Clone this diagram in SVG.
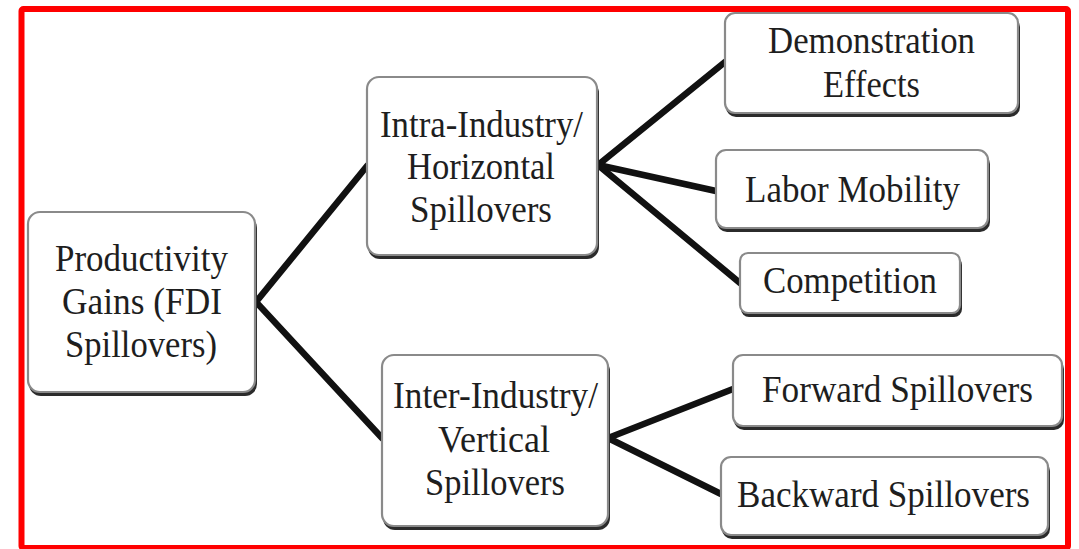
<svg xmlns="http://www.w3.org/2000/svg" width="1079" height="549" viewBox="0 0 1079 549">
<style>
.sh{fill:#2b2b2b;}
.box{fill:#fff;stroke:#8a8a8a;stroke-width:2.2;}
.t{font-family:"Liberation Serif","Times New Roman",serif;font-size:38px;fill:#1e1e1e;text-anchor:middle;}
.c{stroke:#111;stroke-width:6.5;fill:none;stroke-linecap:round;stroke-linejoin:miter;}
</style>
<rect x="0" y="0" width="1079" height="549" fill="#fff"/>
<rect x="21.5" y="9" width="1046.5" height="539" rx="2" fill="none" stroke="#ff0000" stroke-width="6"/>
<g id="connectors">
<polyline class="c" points="367,166 256,302 382,438"/>
<polyline class="c" points="725,62 598,165 716,191"/>
<line class="c" x1="598" y1="165" x2="740" y2="283"/>
<polyline class="c" points="733,389 608,438 721,494"/>
</g>
<g id="root">
<rect class="sh" x="29" y="216" width="228" height="180" rx="12"/>
<rect class="box" x="28" y="212" width="227" height="180" rx="12"/>
<text class="t" x="141.5" y="271" textLength="173" lengthAdjust="spacingAndGlyphs">Productivity</text>
<text class="t" x="142" y="314" textLength="160" lengthAdjust="spacingAndGlyphs">Gains (FDI</text>
<text class="t" x="141" y="357" textLength="152" lengthAdjust="spacingAndGlyphs">Spillovers)</text>
</g>
<g id="intra">
<rect class="sh" x="368" y="81" width="231" height="178" rx="12"/>
<rect class="box" x="367" y="77" width="230" height="178" rx="12"/>
<text class="t" x="481.5" y="137" textLength="203" lengthAdjust="spacingAndGlyphs">Intra-Industry/</text>
<text class="t" x="481" y="179" textLength="148" lengthAdjust="spacingAndGlyphs">Horizontal</text>
<text class="t" x="481" y="222" textLength="142" lengthAdjust="spacingAndGlyphs">Spillovers</text>
</g>
<g id="inter">
<rect class="sh" x="383" y="359" width="227" height="171" rx="12"/>
<rect class="box" x="382" y="355" width="226" height="171" rx="12"/>
<text class="t" x="495.5" y="408" textLength="205" lengthAdjust="spacingAndGlyphs">Inter-Industry/</text>
<text class="t" x="494" y="452" textLength="112" lengthAdjust="spacingAndGlyphs">Vertical</text>
<text class="t" x="495" y="495" textLength="140" lengthAdjust="spacingAndGlyphs">Spillovers</text>
</g>
<g id="demonstration">
<rect class="sh" x="726" y="17" width="294" height="100" rx="10"/>
<rect class="box" x="725" y="13" width="293" height="100" rx="10"/>
<text class="t" x="871.5" y="53" textLength="207" lengthAdjust="spacingAndGlyphs">Demonstration</text>
<text class="t" x="871.5" y="97" textLength="97" lengthAdjust="spacingAndGlyphs">Effects</text>
</g>
<g id="labor">
<rect class="sh" x="717" y="154" width="273" height="78" rx="10"/>
<rect class="box" x="716" y="150" width="272" height="78" rx="10"/>
<text class="t" x="852.5" y="202" textLength="215" lengthAdjust="spacingAndGlyphs">Labor Mobility</text>
</g>
<g id="competition">
<rect class="sh" x="741" y="257" width="221" height="60" rx="8"/>
<rect class="box" x="740" y="253" width="220" height="60" rx="8"/>
<text class="t" x="850" y="293" textLength="174" lengthAdjust="spacingAndGlyphs">Competition</text>
</g>
<g id="forward">
<rect class="sh" x="734" y="359" width="330" height="71" rx="10"/>
<rect class="box" x="733" y="355" width="329" height="71" rx="10"/>
<text class="t" x="897.5" y="402" textLength="271" lengthAdjust="spacingAndGlyphs">Forward Spillovers</text>
</g>
<g id="backward">
<rect class="sh" x="722" y="461" width="328" height="78" rx="10"/>
<rect class="box" x="721" y="457" width="327" height="78" rx="10"/>
<text class="t" x="883.5" y="507" textLength="293" lengthAdjust="spacingAndGlyphs">Backward Spillovers</text>
</g>
</svg>
